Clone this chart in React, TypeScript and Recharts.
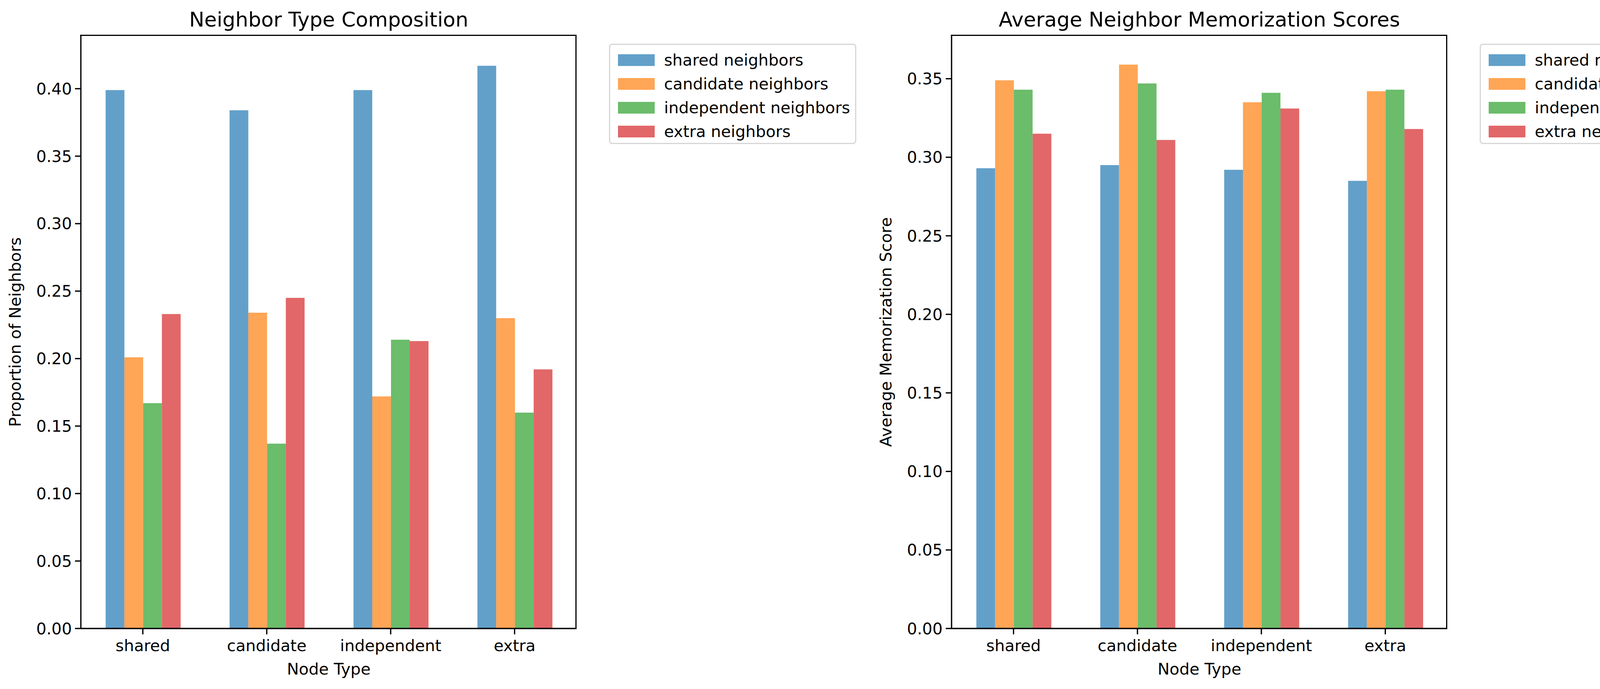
import React from "react";
import { BarChart, Bar, XAxis, YAxis, Label } from "recharts";

const categories = ["shared", "candidate", "independent", "extra"];
const seriesNames = ["shared neighbors", "candidate neighbors", "independent neighbors", "extra neighbors"];
const colors = ["#1f77b4", "#ff7f0e", "#2ca02c", "#d62728"];

const compShared = [0.399, 0.384, 0.399, 0.417];
const compCandidate = [0.201, 0.234, 0.172, 0.230];
const compIndependent = [0.167, 0.137, 0.214, 0.160];
const compExtra = [0.233, 0.245, 0.213, 0.192];

const memShared = [0.293, 0.295, 0.292, 0.285];
const memCandidate = [0.349, 0.359, 0.335, 0.342];
const memIndependent = [0.343, 0.347, 0.341, 0.343];
const memExtra = [0.315, 0.311, 0.331, 0.318];

const leftTicks = [0, 0.05, 0.1, 0.15, 0.2, 0.25, 0.3, 0.35, 0.4];
const rightTicks = [0, 0.05, 0.1, 0.15, 0.2, 0.25, 0.3, 0.35];

const build = (a: number[], b: number[], c: number[], d: number[]) =>
  categories.map((cat, i) => ({ cat, s0: a[i], s1: b[i], s2: c[i], s3: d[i] }));

const compData = build(compShared, compCandidate, compIndependent, compExtra);
const memData = build(memShared, memCandidate, memIndependent, memExtra);

const FONT = "DejaVu Sans, sans-serif";
const FS = 41;
const SW = 3.3;

const W = 1476 + 20;
const H = 1765;
const PL = 207;
const PR = 1476;
const PT = 91;
const PB = 1610;

function Panel(props: { left: number; data: any[]; ticks: number[]; max: number; title: string; ylabel: string }) {
  const { left, data, ticks, max, title, ylabel } = props;
  return (
    <div style={{ position: "absolute", left, top: 0, width: W, height: H }}>
      <BarChart
        width={W}
        height={H}
        data={data}
        margin={{ top: PT, right: 20, left: 0, bottom: H - PB - 130 }}
        barCategoryGap="20%"
        barGap={0}
      >
        <XAxis
          dataKey="cat"
          height={130}
          stroke="#000"
          strokeWidth={SW}
          tickSize={15}
          tick={{ fill: "#000", fontSize: FS, fontFamily: FONT, dy: 12 }}
          tickLine={{ stroke: "#000", strokeWidth: SW }}
        >
          <Label value="Node Type" position="insideBottom" offset={12} style={{ fill: "#000", fontSize: FS, fontFamily: FONT }} />
        </XAxis>
        <YAxis
          width={PL}
          domain={[0, max]}
          ticks={ticks}
          allowDataOverflow
          tickFormatter={(v: number) => v.toFixed(2)}
          stroke="#000"
          strokeWidth={SW}
          tickSize={15}
          tick={{ fill: "#000", fontSize: FS, fontFamily: FONT, dx: -6 }}
          tickLine={{ stroke: "#000", strokeWidth: SW }}
        >
          <Label value={ylabel} angle={-90} position="insideLeft" offset={38} style={{ textAnchor: "middle", fill: "#000", fontSize: FS, fontFamily: FONT }} />
        </YAxis>
        {["s0", "s1", "s2", "s3"].map((k, i) => (
          <Bar key={k} dataKey={k} fill={colors[i]} fillOpacity={0.7} isAnimationActive={false} />
        ))}
      </BarChart>
      <div
        style={{
          position: "absolute",
          left: PL - SW / 2,
          top: PT - SW / 2,
          width: PR - PL + SW / 2,
          height: PB - PT + SW / 2,
          boxSizing: "border-box",
          borderTop: `${SW}px solid #000`,
          borderRight: `${SW}px solid #000`,
          pointerEvents: "none",
        }}
      />
      <div
        style={{
          position: "absolute",
          left: PL,
          width: PR - PL,
          top: 20,
          textAlign: "center",
          fontFamily: FONT,
          fontSize: 52,
          lineHeight: "60px",
          color: "#000",
        }}
      >
        {title}
      </div>
      <div
        style={{
          position: "absolute",
          left: 1559,
          top: 112,
          width: 633,
          height: 257,
          boxSizing: "border-box",
          border: "3px solid #d6d6d6",
          borderRadius: 8,
          background: "#fff",
          fontFamily: FONT,
          fontSize: FS,
          color: "#000",
          paddingTop: 8,
        }}
      >
        {seriesNames.map((n, i) => (
          <div key={n} style={{ display: "flex", alignItems: "center", height: 61, paddingLeft: 20 }}>
            <div style={{ width: 94, height: 30, background: colors[i], opacity: 0.7, marginRight: 24 }} />
            <span style={{ whiteSpace: "nowrap" }}>{n}</span>
          </div>
        ))}
      </div>
    </div>
  );
}

export default function App() {
  return (
    <div style={{ position: "absolute", left: 0, top: 0, width: 4451, height: 1765, background: "#fff", overflow: "hidden" }}>
      <Panel left={0} data={compData} ticks={leftTicks} max={0.4394} title="Neighbor Type Composition" ylabel="Proportion of Neighbors" />
      <Panel left={2229} data={memData} ticks={rightTicks} max={0.3775} title="Average Neighbor Memorization Scores" ylabel="Average Memorization Score" />
    </div>
  );
}
